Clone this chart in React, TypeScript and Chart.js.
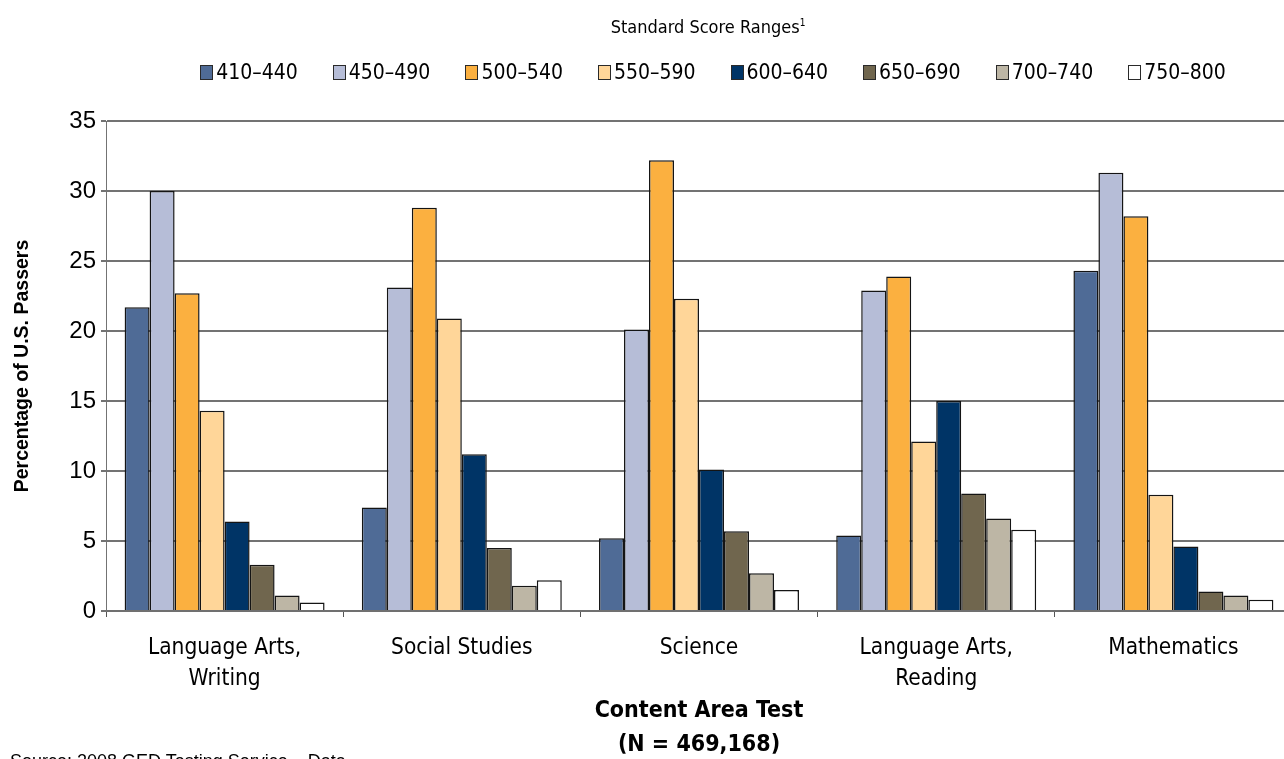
import { useEffect, useRef } from "react";
import { Chart, registerables } from "chart.js";

Chart.register(...registerables);

// Content area tests along the x axis (multi-line labels)
const categories: string[][] = [
  ["Language Arts,", "Writing"],
  ["Social Studies"],
  ["Science"],
  ["Language Arts,", "Reading"],
  ["Mathematics"],
];

// Standard score ranges (one series each)
const scoreRanges = ["410–440", "450–490", "500–540", "550–590", "600–640", "650–690", "700–740", "750–800"];

// Percentage of U.S. passers in each range, per content area
const range410 = [21.7, 7.4, 5.2, 5.4, 24.3];
const range450 = [30.0, 23.1, 20.1, 22.9, 31.3];
const range500 = [22.7, 28.8, 32.2, 23.9, 28.2];
const range550 = [14.3, 20.9, 22.3, 12.1, 8.3];
const range600 = [6.4, 11.2, 10.1, 15.0, 4.6];
const range650 = [3.3, 4.5, 5.7, 8.4, 1.4];
const range700 = [1.1, 1.8, 2.7, 6.6, 1.1];
const range750 = [0.6, 2.2, 1.5, 5.8, 0.8];

const yTicks = [0, 5, 10, 15, 20, 25, 30, 35];

const xTitle = ["Content Area Test", "(N = 469,168)"];
const yTitle = "Percentage of U.S. Passers";
const legendTitle = "Standard Score Ranges";
const sourceNote = "Source: 2008 GED Testing Service – Data";

const seriesValues = [range410, range450, range500, range550, range600, range650, range700, range750];
const rangeColors = ["#4f6b96", "#b6bdd7", "#fbb040", "#ffd699", "#003466", "#70664e", "#bdb6a5", "#ffffff"];

const NARROW = "'Liberation Sans Narrow', 'DejaVu Sans Condensed', sans-serif";
const ARIAL = "'Liberation Sans', Arial, sans-serif";

export default function App() {
  const canvasRef = useRef<HTMLCanvasElement | null>(null);

  useEffect(() => {
    const canvas = canvasRef.current;
    if (!canvas) return;
    const chart = new Chart(canvas, {
      type: "bar",
      data: {
        labels: categories,
        datasets: scoreRanges.map((label, i) => ({
          label,
          data: seriesValues[i],
          backgroundColor: rangeColors[i],
          borderColor: "#141414",
          borderWidth: 1.5,
          categoryPercentage: 0.843,
          barPercentage: 1,
        })),
      },
      options: {
        animation: false,
        responsive: false,
        maintainAspectRatio: false,
        devicePixelRatio: 1,
        layout: { padding: { top: 121, left: 0, right: 8, bottom: 0 } },
        plugins: {
          legend: { display: false },
          tooltip: { enabled: false },
        },
        scales: {
          x: {
            grid: {
              offset: true,
              drawOnChartArea: false,
              drawTicks: true,
              tickLength: 6,
              color: "#555555",
              lineWidth: 1,
            },
            border: { display: true, color: "#707070", width: 2 },
            ticks: {
              color: "#000",
              font: { family: NARROW, size: 22.5, lineHeight: 1.38 },
              padding: 16,
              maxRotation: 0,
              autoSkip: false,
            },
            title: {
              display: true,
              text: xTitle,
              color: "#000",
              font: { family: NARROW, size: 23, weight: "bold", lineHeight: 1.52 },
              padding: { top: 0, bottom: 27 },
            },
            afterFit: (scale: any) => {
              scale.height = 179;
            },
          },
          y: {
            min: 0,
            max: 35,
            afterBuildTicks: (scale: any) => {
              scale.ticks = yTicks.map((value) => ({ value }));
            },
            grid: { color: "#737373", lineWidth: 2, tickLength: 5, drawTicks: true },
            border: { display: true, color: "#737373", width: 1 },
            ticks: {
              color: "#000",
              font: { family: ARIAL, size: 24 },
              padding: 5,
            },
            title: {
              display: true,
              text: yTitle,
              color: "#000",
              font: { family: ARIAL, size: 19.5, weight: "bold", lineHeight: 1.2 },
              padding: { top: 11, bottom: 0 },
            },
            afterFit: (scale: any) => {
              scale.width = 106;
            },
          },
        },
      },
    });
    return () => chart.destroy();
  }, []);

  return (
    <div
      style={{
        position: "fixed",
        left: 0,
        top: 0,
        width: 1284,
        height: 759,
        overflow: "hidden",
        background: "#fff",
      }}
    >
      <canvas
        ref={canvasRef}
        width={1300}
        height={790}
        style={{ position: "absolute", left: 0, top: 0, width: 1300, height: 790 }}
      />
      <div
        style={{
          position: "absolute",
          left: 508,
          top: 16,
          width: 400,
          textAlign: "center",
          fontFamily: NARROW,
          fontSize: 18,
          lineHeight: "22px",
          color: "#000",
          whiteSpace: "nowrap",
        }}
      >
        {legendTitle}
        <span style={{ fontSize: 10, position: "relative", top: -7 }}>1</span>
      </div>
      <div
        style={{
          position: "absolute",
          left: 142,
          top: 60,
          width: 1142,
          height: 24,
          display: "flex",
          justifyContent: "center",
          alignItems: "center",
          gap: 35,
        }}
      >
        {scoreRanges.map((label, i) => (
          <div key={label} style={{ display: "flex", alignItems: "center" }}>
            <span
              style={{
                display: "inline-block",
                width: 11,
                height: 13,
                background: rangeColors[i],
                border: "1px solid #2a2a2a",
                marginRight: 3,
              }}
            />
            <span
              style={{
                fontFamily: NARROW,
                fontSize: 21,
                lineHeight: "24px",
                color: "#000",
                whiteSpace: "nowrap",
              }}
            >
              {label}
            </span>
          </div>
        ))}
      </div>
      <div
        style={{
          position: "absolute",
          left: 10,
          top: 751,
          fontFamily: ARIAL,
          fontSize: 18,
          lineHeight: "20px",
          color: "#000",
          whiteSpace: "nowrap",
        }}
      >
        {sourceNote}
      </div>
    </div>
  );
}
